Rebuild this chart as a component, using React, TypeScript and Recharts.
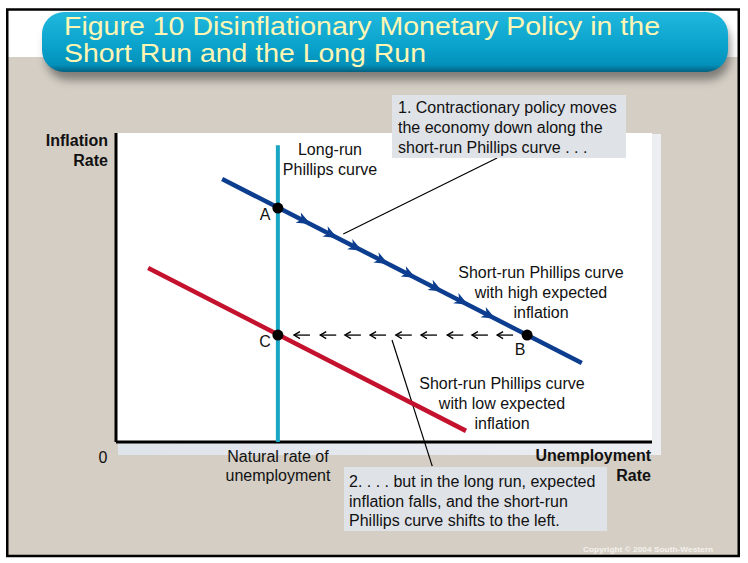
import React from "react";
import { ComposedChart, Line, Scatter, XAxis, YAxis, ReferenceLine } from "recharts";

// ---- data (axis units 0..100 on both axes) ----
const longRunLine = [
  { x: 30.2, y: 0 },
  { x: 30.2, y: 96 },
];
const highSRPC = [
  { x: 19.8, y: 85.1 },
  { x: 86.9, y: 25.6 },
];
const lowSRPC = [
  { x: 6.0, y: 56.3 },
  { x: 65.3, y: 3.6 },
];
const keyPoints = [
  { name: "A", x: 30.2, y: 75.7 },
  { name: "B", x: 76.7, y: 34.6 },
  { name: "C", x: 30.2, y: 34.6 },
];
// arrowheads drawn along the high-expectation curve (A -> B)
const movementArrows = [
  { x: 35.3, y: 71.4 },
  { x: 40.3, y: 66.9 },
  { x: 44.9, y: 62.8 },
  { x: 49.8, y: 58.5 },
  { x: 54.9, y: 54.0 },
  { x: 59.9, y: 49.6 },
  { x: 64.7, y: 45.3 },
  { x: 69.8, y: 40.8 },
];
// dashed leftward arrows from B to C (tips)
const shiftArrows = [
  { x: 33.2, y: 34.6 },
  { x: 38.1, y: 34.6 },
  { x: 42.7, y: 34.6 },
  { x: 47.4, y: 34.6 },
  { x: 52.2, y: 34.6 },
  { x: 56.9, y: 34.6 },
  { x: 61.8, y: 34.6 },
  { x: 66.4, y: 34.6 },
  { x: 71.1, y: 34.6 },
];
const leader1 = [
  { x: 42.4, y: 67.3 },
  { x: 71.1, y: 91.9 },
];
const leader2 = [
  { x: 51.5, y: 33.0 },
  { x: 59.0, y: -7.8 },
];
const xAxisLine = [
  { x: 0, y: 0 },
  { x: 100, y: 0 },
];
const yAxisLine = [
  { x: 0, y: 0 },
  { x: 0, y: 100 },
];
const xTickLabels = ["0"];

const titleLines = [
  "Figure 10 Disinflationary Monetary Policy in the",
  "Short Run and the Long Run",
];
const box1Lines = [
  "1. Contractionary policy moves",
  "the economy down along the",
  "short-run Phillips curve . . .",
];
const box2Lines = [
  "2. . . . but in the long run, expected",
  "inflation falls, and the short-run",
  "Phillips curve shifts to the left.",
];

const BLUE = "#0c3d8f";
const RED = "#c4112d";
const CYAN = "#18a6c4";
const BEIGE = "#d4cec4";
const FONT = '"Liberation Sans", Arial, Helvetica, sans-serif';

const Dot = (props: any) => <circle cx={props.cx} cy={props.cy} r={5.5} fill="#000" />;

const Chevron = (props: any) => (
  <path
    transform={`translate(${props.cx},${props.cy}) rotate(27)`}
    d="M6,0 L-8,-6 L-4,0 L-8,5.5 Z"
    fill={BLUE}
  />
);

const LeftArrow = (props: any) => {
  const { cx, cy } = props;
  return (
    <g stroke="#000" strokeWidth={1.3} fill="none">
      <line x1={cx} y1={cy} x2={cx + 16} y2={cy} />
      <path d={`M${cx + 6},${cy - 3.5} L${cx},${cy} L${cx + 6},${cy + 3.5}`} />
    </g>
  );
};

const T = (p: any) => (
  <text
    x={p.x}
    y={p.y}
    textAnchor={p.anchor || "middle"}
    fontSize={p.size || 16}
    fontWeight={p.bold ? "bold" : "normal"}
    fill={p.fill || "#111"}
    fontFamily={FONT}
  >
    {p.children}
  </text>
);

export default function App() {
  return (
    <div
      style={{
        position: "absolute",
        left: 0,
        top: 0,
        width: 748,
        height: 563,
        background: "#fff",
        fontFamily: FONT,
        overflow: "hidden",
      }}
    >
      <svg width={748} height={563} style={{ position: "absolute", left: 0, top: 0 }}>
        <defs>
          <linearGradient id="pill" x1="0" y1="0" x2="0" y2="1">
            <stop offset="0%" stopColor="#22b8de" />
            <stop offset="55%" stopColor="#0aa3cc" />
            <stop offset="88%" stopColor="#0391bb" />
            <stop offset="100%" stopColor="#04617f" />
          </linearGradient>
          <linearGradient id="strip" x1="0" y1="0" x2="1" y2="0">
            <stop offset="0%" stopColor="#dfe3ea" />
            <stop offset="100%" stopColor="#eceef2" />
          </linearGradient>
          <filter id="blur" x="-10%" y="-30%" width="120%" height="170%">
            <feGaussianBlur stdDeviation="4" />
          </filter>
        </defs>
        <rect x={0} y={0} width={748} height={563} fill="#fff" />
        <rect x={7} y={57} width={732} height={499} fill={BEIGE} />
        {/* title pill */}
        <rect x={46} y={20} width={684} height={60} rx={22} fill="#3a3a3a" opacity={0.55} filter="url(#blur)" />
        <rect x={42} y={12} width={686} height={60} rx={22} fill="url(#pill)" />
        {titleLines.map((t, i) => (
          <text
            key={i}
            x={64}
            y={35 + i * 27}
            fontSize={25}
            fill="#fff6b4"
            fontFamily='"Liberation Sans Narrow", "Arial Narrow", "Liberation Sans", sans-serif'
            textLength={i === 0 ? 596 : 362}
            lengthAdjust="spacingAndGlyphs"
          >
            {t}
          </text>
        ))}
        {/* plot panel with soft shadow */}
        <rect x={118} y={134} width={543} height={321} fill="url(#strip)" />
        <rect x={116} y={133} width={536} height={309} fill="#fff" />
        {/* frame */}
        <rect x={7.25} y={9.5} width={731.5} height={546.5} fill="none" stroke="#000" strokeWidth={2.5} />
        <text
          x={583}
          y={552}
          fontSize={8}
          fontWeight="bold"
          fill="#f4f1ec"
          fontFamily={FONT}
          textLength={130}
          lengthAdjust="spacingAndGlyphs"
        >
          Copyright © 2004  South-Western
        </text>
      </svg>

      <div style={{ position: "absolute", left: 0, top: 0 }}>
        <ComposedChart
          width={748}
          height={563}
          margin={{ top: 133, right: 96, bottom: 121, left: 116 }}
        >
          <XAxis type="number" dataKey="x" domain={[0, 100]} hide allowDataOverflow />
          <YAxis type="number" dataKey="y" domain={[0, 100]} hide allowDataOverflow />
          <ReferenceLine segment={xAxisLine} stroke="#000" strokeWidth={3} ifOverflow="visible" />
          <ReferenceLine segment={yAxisLine} stroke="#000" strokeWidth={3} ifOverflow="visible" />
          <ReferenceLine segment={leader1} stroke="#000" strokeWidth={1.2} ifOverflow="visible" />
          <ReferenceLine segment={leader2} stroke="#000" strokeWidth={1.2} ifOverflow="visible" />
          <Line
            data={lowSRPC}
            dataKey="y"
            type="linear"
            stroke={RED}
            strokeWidth={4.5}
            dot={false}
            activeDot={false}
            isAnimationActive={false}
          />
          <Line
            data={highSRPC}
            dataKey="y"
            type="linear"
            stroke={BLUE}
            strokeWidth={4.5}
            dot={false}
            activeDot={false}
            isAnimationActive={false}
          />
          <Line
            data={longRunLine}
            dataKey="y"
            type="linear"
            stroke={CYAN}
            strokeWidth={4}
            dot={false}
            activeDot={false}
            isAnimationActive={false}
          />
          <Scatter data={movementArrows} dataKey="y" shape={Chevron} isAnimationActive={false} />
          <Scatter data={shiftArrows} dataKey="y" shape={LeftArrow} isAnimationActive={false} />
          <Scatter data={keyPoints} dataKey="y" shape={Dot} isAnimationActive={false} />
        </ComposedChart>
      </div>

      <svg
        width={748}
        height={563}
        style={{ position: "absolute", left: 0, top: 0, pointerEvents: "none" }}
      >
        {/* annotation boxes */}
        <rect x={392} y={95} width={234} height={63} fill="#dfe2e7" />
        {box1Lines.map((t, i) => (
          <T key={i} x={398} y={113 + i * 20} anchor="start">
            {t}
          </T>
        ))}
        <rect x={344} y={467} width={263} height={64} fill="#dfe2e7" />
        {box2Lines.map((t, i) => (
          <T key={i} x={349} y={487 + i * 19.5} anchor="start">
            {t}
          </T>
        ))}

        {/* axis titles */}
        <T x={108} y={146} anchor="end" bold>Inflation</T>
        <T x={108} y={166} anchor="end" bold>Rate</T>
        <T x={651} y={461} anchor="end" bold>Unemployment</T>
        <T x={651} y={481} anchor="end" bold>Rate</T>
        <T x={103} y={463}>{xTickLabels[0]}</T>
        <T x={278} y={462}>Natural rate of</T>
        <T x={278} y={481}>unemployment</T>

        {/* curve labels */}
        <T x={330} y={155}>Long-run</T>
        <T x={330} y={175}>Phillips curve</T>
        <T x={541} y={278}>Short-run Phillips curve</T>
        <T x={541} y={298}>with high expected</T>
        <T x={541} y={318}>inflation</T>
        <T x={502} y={389}>Short-run Phillips curve</T>
        <T x={502} y={409}>with low expected</T>
        <T x={502} y={429}>inflation</T>

        {/* point labels */}
        <T x={265} y={220}>A</T>
        <T x={265} y={347}>C</T>
        <T x={520} y={355}>B</T>
      </svg>
    </div>
  );
}
